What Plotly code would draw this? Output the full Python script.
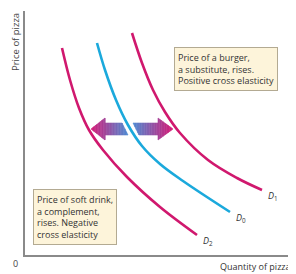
import plotly.graph_objects as go

# Demand curves (quantity, price) in chart units
d1_q = [107, 117, 128, 140, 155, 183, 212, 237]
d1_p = [222, 192, 165, 143, 122, 95, 77, 65]
d0_q = [72, 80, 91, 103, 117, 135, 158, 205]
d0_p = [212, 185, 155, 130, 109, 91, 74, 43]
d2_q = [37, 45, 54, 64, 78, 102, 135, 172]
d2_p = [207, 175, 147, 125, 105, 78, 48, 20]

curve_labels = ["<i>D</i><sub>1</sub>", "<i>D</i><sub>0</sub>", "<i>D</i><sub>2</sub>"]
box_top_text = "Price of a burger,<br>a substitute, rises.<br>Positive cross elasticity"
box_bottom_text = "Price of soft drink,<br>a complement,<br>rises. Negative<br>cross elasticity"

MAGENTA = "#d0186e"
CYAN = "#1ba9dc"

fig = go.Figure()
for q, p, c in [(d1_q, d1_p, MAGENTA), (d0_q, d0_p, CYAN), (d2_q, d2_p, MAGENTA)]:
    fig.add_trace(go.Scatter(x=q, y=p, mode="lines",
                             line=dict(color=c, width=2.6, shape="spline", smoothing=1.0),
                             hoverinfo="skip", showlegend=False))

# curve labels
for lab, q, p in zip(curve_labels, [d1_q, d0_q, d2_q], [d1_p, d0_p, d2_p]):
    fig.add_annotation(x=q[-1] + 4, y=p[-1] - 6, text=lab, showarrow=False,
                       xanchor="left", yanchor="middle",
                       font=dict(family="Open Sans", size=9, color="#333"))

# gradient arrows
def lerp(c1, c2, t):
    return "rgb(%d,%d,%d)" % tuple(round(a + (b - a) * t) for a, b in zip(c1, c2))

MAG_RGB = (214, 26, 118)
BLU_RGB = (80, 140, 212)
shapes = []

def add_arrow(tip, base, end_top, end_bot, yc, hh, sh, left):
    def top_bot(x):
        if left:
            d = x - tip
            head_len = base - tip
        else:
            d = tip - x
            head_len = tip - base
        if d < head_len:
            h = hh * d / head_len
            top, bot = yc + h, yc - h
        else:
            top, bot = yc + sh, yc - sh
        lo, hi = min(end_top, end_bot), max(end_top, end_bot)
        if lo <= x <= hi and hi > lo:
            ys = yc + sh - (x - end_top) / (end_bot - end_top) * 2 * sh
            if left:
                top = min(top, ys)
            else:
                bot = max(bot, ys)
        return top, bot
    xmin = min(tip, end_top, end_bot)
    xmax = max(tip, end_top, end_bot)
    n = 24
    xs = sorted(set([xmin + (xmax - xmin) * i / n for i in range(n + 1)] + [base, end_top, end_bot]))
    for a, b in zip(xs[:-1], xs[1:]):
        if b - a < 1e-6:
            continue
        m = (a + b) / 2
        t = abs(m - tip) / (xmax - xmin)
        col = lerp(MAG_RGB, BLU_RGB, t)
        ta, ba = top_bot(a + 1e-6)
        tb, bb = top_bot(b - 1e-6)
        path = f"M {a},{ba} L {a},{ta} L {b},{tb} L {b},{bb} Z"
        shapes.append(dict(type="path", path=path, xref="x", yref="y",
                           fillcolor=col, line=dict(color=col, width=0.6), layer="above"))

add_arrow(tip=66, base=80, end_top=97, end_bot=103, yc=126, hh=11, sh=6, left=True)
add_arrow(tip=148, base=133, end_top=108, end_bot=114, yc=126, hh=11, sh=6, left=False)

# text boxes
fig.add_annotation(x=149, y=208, text=box_top_text, showarrow=False, align="left",
                   xanchor="left", yanchor="top", bgcolor="#fdf4da", bordercolor="#b3aa92",
                   borderwidth=1, borderpad=3,
                   font=dict(family="Open Sans", size=9, color="#333"))
fig.add_annotation(x=8, y=66, text=box_bottom_text, showarrow=False, align="left",
                   xanchor="left", yanchor="top", bgcolor="#fdf4da", bordercolor="#b3aa92",
                   borderwidth=1, borderpad=3,
                   font=dict(family="Open Sans", size=9, color="#333"))

# axis labels
fig.add_annotation(xref="paper", yref="paper", x=-0.037, y=1.0, text="Price of pizza",
                   textangle=-90, showarrow=False, xanchor="center", yanchor="top",
                   font=dict(family="Open Sans", size=9.5, color="#444"))
fig.add_annotation(xref="paper", yref="paper", x=0.989, y=-0.049, text="Quantity of pizza",
                   showarrow=False, xanchor="right", yanchor="middle",
                   font=dict(family="Open Sans", size=9, color="#333"))
fig.add_annotation(xref="paper", yref="paper", x=-0.018, y=-0.033, text="0",
                   showarrow=False, xanchor="right", yanchor="middle",
                   font=dict(family="Open Sans", size=9, color="#444"))

# page body has an 8px default margin; size the figure to fit the window
fig.update_layout(
    width=288, height=266,
    margin=dict(l=17, r=0, t=3, b=19),
    paper_bgcolor="white", plot_bgcolor="white",
    shapes=shapes,
    xaxis=dict(range=[0, 271], showgrid=False, zeroline=False, showticklabels=False,
               ticks="", showline=True, linecolor="#8a8a8a", linewidth=2, fixedrange=True),
    yaxis=dict(range=[0, 244], showgrid=False, zeroline=False, showticklabels=False,
               ticks="", showline=True, linecolor="#8a8a8a", linewidth=2, fixedrange=True),
)
fig.write_html("out.html")
